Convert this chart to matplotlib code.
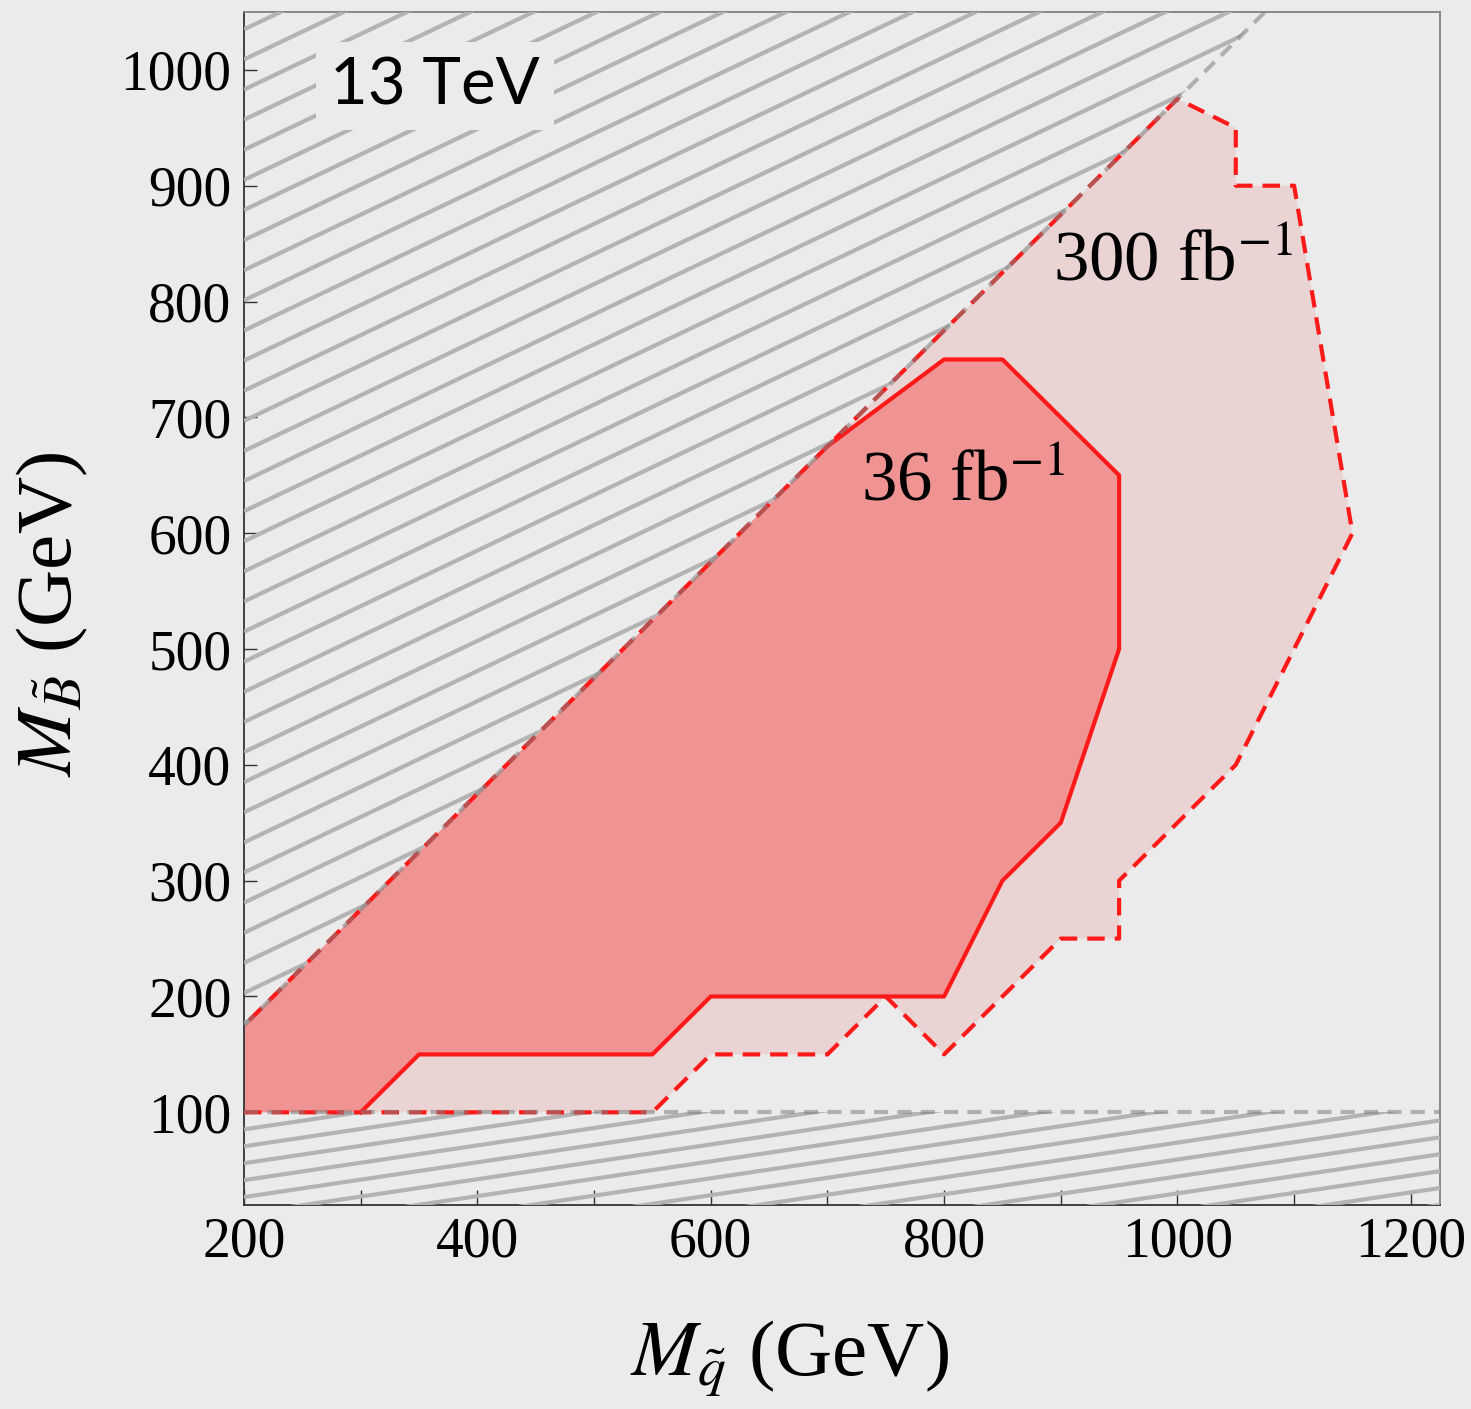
import numpy as np
import matplotlib
matplotlib.use("Agg")
import matplotlib.pyplot as plt
from matplotlib.patches import Polygon
from matplotlib.collections import LineCollection
from matplotlib.ticker import MultipleLocator

# ---- data ----
# 36 fb^-1 excluded region (solid contour)
sq_36 = [200, 300, 350, 550, 600, 800, 850, 900, 950, 950, 850, 800, 700, 200]
bino_36 = [100, 100, 150, 150, 200, 200, 300, 350, 500, 650, 750, 750, 675, 175]
# 300 fb^-1 projected region (dashed contour)
sq_300 = [200, 550, 600, 700, 750, 800, 900, 950, 950, 1050, 1150, 1100, 1050, 1050, 1000, 200]
bino_300 = [100, 100, 150, 150, 200, 150, 250, 250, 300, 400, 600, 900, 900, 950, 975, 175]
mass_gap = 25          # kinematic boundary M_B = M_q - 25
bino_min = 100         # lower bound on M_B
xticks = [200, 400, 600, 800, 1000, 1200]
yticks = [100, 200, 300, 400, 500, 600, 700, 800, 900, 1000]

BG = "#ebebeb"
plt.rcParams["font.family"] = ["Liberation Serif", "DejaVu Serif"]
plt.rcParams["mathtext.fontset"] = "stix"

fig = plt.figure(figsize=(14.71, 14.09), dpi=100, facecolor=BG)
ax = fig.add_axes([0.1659, 0.1448, 0.9789 - 0.1659, 0.9915 - 0.1448])
ax.set_facecolor(BG)
xmin, xmax, ymin, ymax = 200, 1225, 20, 1050
ax.set_xlim(xmin, xmax)
ax.set_ylim(ymin, ymax)

# fills
ax.fill(sq_300, bino_300, color="#ead3d3", zorder=1, lw=0)
ax.fill(sq_36, bino_36, color="#f09393", zorder=2, lw=0)

# outlines
ax.plot(sq_300, bino_300, color="#ff1a1a", lw=3.0, ls=(0, (4.2, 2.4)), zorder=4)
ax.plot(sq_36[1:-1], bino_36[1:-1], color="#ff1a1a", lw=3.0, zorder=4)

# hatched excluded regions
def hatch(poly_pts, slope, spacing, ylo, yhi):
    poly = Polygon(poly_pts, closed=True, transform=ax.transData, fill=False, lw=0)
    ax.add_patch(poly)
    cs = np.arange(ylo - slope * (xmax - xmin), yhi + spacing, spacing)
    segs = [[(xmin, c), (xmax, c + slope * (xmax - xmin))] for c in cs]
    lc = LineCollection(segs, colors="#b3b3b3", linewidths=3.0, zorder=3)
    ax.add_collection(lc)
    lc.set_clip_path(poly)

hatch([(xmin, xmin - mass_gap), (ymax + mass_gap, ymax), (xmin, ymax)], 0.48, 26.0, xmin - mass_gap, ymax)
hatch([(xmin, ymin), (xmax, ymin), (xmax, bino_min), (xmin, bino_min)], 0.15, 14.6, ymin, bino_min)

# boundary lines
ax.axline((xmin, xmin - mass_gap), slope=1, color="#7f7f7f", alpha=0.55, lw=3.0,
          ls=(0, (3.4, 2.2)), zorder=5)
ax.axhline(bino_min, color="#7f7f7f", alpha=0.55, lw=3.0, ls=(0, (3.4, 2.2)), zorder=5)

# texts
ax.text(0.072, 0.938, "13 TeV", transform=ax.transAxes, fontsize=47,
        family=["Lato", "DejaVu Sans"], va="center", ha="left", zorder=6,
        bbox=dict(boxstyle="square,pad=0.22", fc=BG, ec="none"))
ax.text(729, 628, r"36 fb$^{-1}$", fontsize=51, zorder=6, va="baseline")
ax.text(893, 818, r"300 fb$^{-1}$", fontsize=51, zorder=6, va="baseline")

# axes styling
ax.set_xticks(xticks)
ax.set_yticks(yticks)
ax.xaxis.set_minor_locator(MultipleLocator(100))
ax.tick_params(axis="both", which="both", direction="in", labelsize=40,
               top=False, right=False, width=1.0, color="#333333")
ax.tick_params(axis="x", which="both", length=11, pad=8)
ax.tick_params(axis="y", which="both", length=9, pad=9)
for s in ["left", "bottom"]:
    ax.spines[s].set_color("#333333")
    ax.spines[s].set_linewidth(1.3)
for s in ["top", "right"]:
    ax.spines[s].set_color("#808080")
    ax.spines[s].set_linewidth(1.3)

ax.set_xlabel(r"$M_{\tilde{q}}$ (GeV)", fontsize=57)
ax.set_ylabel(r"$M_{\tilde{B}}$ (GeV)", fontsize=57)
ax.xaxis.set_label_coords(0.456, -0.095)
ax.yaxis.set_label_coords(-0.129, 0.495)

fig.savefig("out.png", dpi=100, facecolor=BG)
